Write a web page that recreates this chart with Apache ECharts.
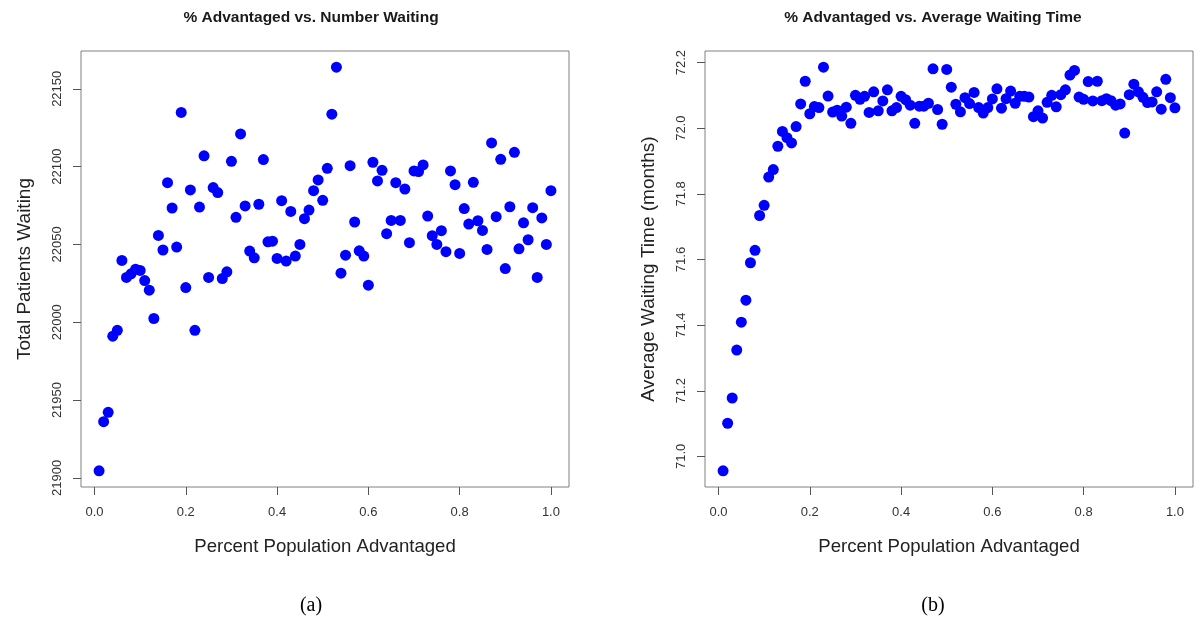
<!DOCTYPE html>
<html>
<head>
<meta charset="utf-8">
<script src="https://cdn.jsdelivr.net/npm/echarts@6/dist/echarts.min.js"></script>
<style>
html,body{margin:0;padding:0;background:#fff;}
#chart{width:1194px;height:617px;}
</style>
</head>
<body>
<div id="chart"></div>
<script>
// ---- data ----
var percentAdvantaged = [
  0.01,0.02,0.03,0.04,0.05,0.06,0.07,0.08,0.09,0.10,
  0.11,0.12,0.13,0.14,0.15,0.16,0.17,0.18,0.19,0.20,
  0.21,0.22,0.23,0.24,0.25,0.26,0.27,0.28,0.29,0.30,
  0.31,0.32,0.33,0.34,0.35,0.36,0.37,0.38,0.39,0.40,
  0.41,0.42,0.43,0.44,0.45,0.46,0.47,0.48,0.49,0.50,
  0.51,0.52,0.53,0.54,0.55,0.56,0.57,0.58,0.59,0.60,
  0.61,0.62,0.63,0.64,0.65,0.66,0.67,0.68,0.69,0.70,
  0.71,0.72,0.73,0.74,0.75,0.76,0.77,0.78,0.79,0.80,
  0.81,0.82,0.83,0.84,0.85,0.86,0.87,0.88,0.89,0.90,
  0.91,0.92,0.93,0.94,0.95,0.96,0.97,0.98,0.99,1.00
];
var totalWaiting = [
  21904.5,21936.1,21942.1,21991.0,21994.8,22039.7,22028.8,22031.1,22034.1,22033.3,
  22026.8,22020.6,22002.4,22055.8,22046.4,22089.7,22073.4,22048.3,22134.8,22022.3,
  22085.0,21994.8,22074.0,22106.9,22028.8,22086.5,22083.3,22028.1,22032.4,22103.4,
  22067.4,22121.0,22074.7,22045.7,22041.4,22075.8,22104.5,22051.7,22052.1,22041.0,
  22078.1,22039.3,22071.2,22042.5,22050.0,22066.5,22072.1,22084.5,22091.4,22078.3,
  22098.9,22133.7,22163.9,22031.5,22043.1,22100.6,22064.4,22045.9,22042.5,22023.8,
  22102.8,22090.8,22097.6,22056.9,22065.4,22089.7,22065.4,22085.6,22051.1,22097.2,
  22096.8,22101.1,22068.2,22055.6,22050.0,22058.8,22045.3,22097.2,22088.4,22044.2,
  22073.0,22063.1,22089.9,22065.2,22059.0,22046.8,22115.2,22067.8,22104.7,22034.5,
  22074.2,22109.2,22047.2,22063.9,22053.0,22073.6,22028.8,22067.0,22050.0,22084.5
];
var avgWaitingTime = [
  70.956,71.101,71.178,71.324,71.409,71.476,71.590,71.628,71.734,71.765,
  71.851,71.874,71.945,71.990,71.971,71.955,72.005,72.074,72.143,72.044,
  72.066,72.063,72.186,72.098,72.049,72.055,72.037,72.064,72.015,72.100,
  72.088,72.097,72.048,72.111,72.053,72.083,72.117,72.053,72.063,72.097,
  72.087,72.070,72.015,72.067,72.067,72.076,72.181,72.057,72.012,72.179,
  72.125,72.073,72.050,72.093,72.075,72.109,72.063,72.046,72.063,72.089,
  72.120,72.061,72.090,72.113,72.076,72.097,72.097,72.095,72.035,72.053,
  72.031,72.079,72.100,72.065,72.102,72.117,72.162,72.176,72.095,72.088,
  72.142,72.083,72.143,72.084,72.090,72.084,72.070,72.074,71.985,72.102,
  72.134,72.111,72.094,72.078,72.080,72.111,72.058,72.149,72.093,72.062
];
var xTicks = [0.0,0.2,0.4,0.6,0.8,1.0];
var leftYTicks = [21900,21950,22000,22050,22100,22150];
var rightYTicks = [71.0,71.2,71.4,71.6,71.8,72.0,72.2];

var titleLeft = '% Advantaged vs. Number Waiting';
var titleRight = '% Advantaged vs. Average Waiting Time';
var xName = 'Percent Population Advantaged';
var yNameLeft = 'Total Patients Waiting';
var yNameRight = 'Average Waiting Time (months)';
var captions = ['(a)','(b)'];

// R-style 4% range extension
function rRange(arr){
  var mn = Math.min.apply(null, arr), mx = Math.max.apply(null, arr);
  var pad = (mx - mn) * 0.04;
  return [mn - pad, mx + pad];
}
function pairs(xs, ys){ return xs.map(function(x,i){ return [x, ys[i]]; }); }

var FONT = 'Liberation Sans, Arial, sans-serif';
var SERIF = 'Liberation Serif, Times New Roman, serif';
var xr = rRange(percentAdvantaged);
var yrL = rRange(totalWaiting);
var yrR = rRange(avgWaitingTime);

function xAxisDef(gridIndex){
  return {
    type:'value', gridIndex:gridIndex, min:xr[0], max:xr[1],
    name:xName, nameLocation:'middle', nameGap:50,
    nameTextStyle:{fontFamily:FONT, fontSize:18.6, color:'#222'},
    axisLine:{show:false, onZero:false}, splitLine:{show:false},
    axisTick:{show:true, inside:false, length:8, customValues:xTicks, lineStyle:{color:'#555', width:1}},
    axisLabel:{customValues:xTicks, margin:19, fontFamily:FONT, fontSize:13, color:'#333',
      formatter:function(v){ return v.toFixed(1); }}
  };
}
function yAxisDef(gridIndex, rng, ticks, name, digits){
  return {
    type:'value', gridIndex:gridIndex, min:rng[0], max:rng[1],
    name:name, nameLocation:'middle', nameGap:47,
    nameTextStyle:{fontFamily:FONT, fontSize:19, color:'#222'},
    axisLine:{show:false, onZero:false}, splitLine:{show:false},
    axisTick:{show:true, inside:false, length:8, customValues:ticks, lineStyle:{color:'#555', width:1}},
    axisLabel:{customValues:ticks, rotate:90, margin:17, fontFamily:FONT, fontSize:13, color:'#333',
      formatter:function(v){ return v.toFixed(digits); }}
  };
}
function titleDef(text, cx, top, style){
  return {text:text, left:cx, top:top, textAlign:'center', padding:0, textStyle:style};
}

var chart = echarts.init(document.getElementById('chart'), null, {renderer:'canvas'});
var titleStyle = {fontFamily:FONT, fontSize:15.5, fontWeight:'bold', color:'#1a1a1a'};
var capStyle = {fontFamily:SERIF, fontSize:20, fontWeight:'normal', color:'#000'};
chart.setOption({
  backgroundColor:'#ffffff',
  animation:false,
  title:[
    titleDef(titleLeft, 311, 10, titleStyle),
    titleDef(titleRight, 933, 10, titleStyle),
    titleDef(captions[0], 311, 596, capStyle),
    titleDef(captions[1], 933, 596, capStyle)
  ],
  grid:[
    {left:81, top:51, width:488, height:436, show:true, borderColor:'#808080', borderWidth:1, backgroundColor:'transparent', outerBoundsMode:'none'},
    {left:705, top:51, width:488, height:436, show:true, borderColor:'#808080', borderWidth:1, backgroundColor:'transparent', outerBoundsMode:'none'}
  ],
  xAxis:[xAxisDef(0), xAxisDef(1)],
  yAxis:[
    yAxisDef(0, yrL, leftYTicks, yNameLeft, 0),
    yAxisDef(1, yrR, rightYTicks, yNameRight, 1)
  ],
  series:[
    {type:'scatter', xAxisIndex:0, yAxisIndex:0, data:pairs(percentAdvantaged,totalWaiting),
      symbol:'circle', symbolSize:11, itemStyle:{color:'#0000ff', opacity:1}},
    {type:'scatter', xAxisIndex:1, yAxisIndex:1, data:pairs(percentAdvantaged,avgWaitingTime),
      symbol:'circle', symbolSize:11, itemStyle:{color:'#0000ff', opacity:1}}
  ]
});
</script>
</body>
</html>
